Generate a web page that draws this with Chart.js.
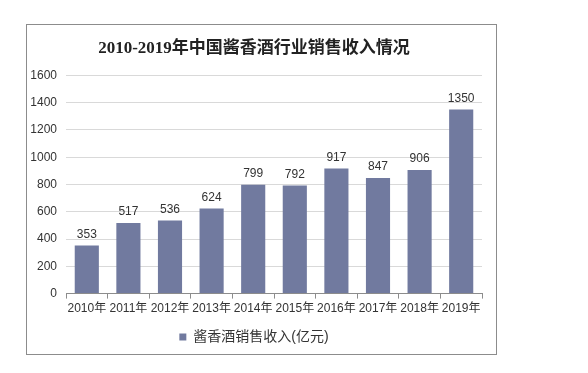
<!DOCTYPE html>
<html>
<head>
<meta charset="utf-8">
<script src="https://cdn.jsdelivr.net/npm/chart.js@4/dist/chart.umd.min.js"></script>
<style>
  html, body { margin: 0; padding: 0; background: #fff; }
  #wrap { width: 588px; height: 373px; position: relative; }
</style>
</head>
<body>
<div id="wrap"><canvas id="salesChart" width="588" height="373"></canvas></div>
<script>
// data
const years = ['2010年', '2011年', '2012年', '2013年', '2014年', '2015年', '2016年', '2017年', '2018年', '2019年'];
const sales = [353, 517, 536, 624, 799, 792, 917, 847, 906, 1350];
const seriesName = '酱香酒销售收入(亿元)';
const chartTitle = '2010-2019年中国酱香酒行业销售收入情况';

Chart.defaults.color = '#333';
Chart.defaults.font.family = "'Liberation Sans', 'Noto Sans CJK SC', sans-serif";
Chart.defaults.font.size = 12;

// frame round the whole chart
const framePlugin = {
    id: 'frame',
    beforeDraw(chart) {
        const ctx = chart.ctx;
        ctx.save();
        ctx.strokeStyle = '#8c8c8c';
        ctx.lineWidth = 1;
        ctx.strokeRect(26.5, 24.5, 470, 330);
        ctx.restore();
    }
};

// value labels above the bars
const valueLabels = {
    id: 'valueLabels',
    afterDatasetsDraw(chart) {
        const ctx = chart.ctx;
        const meta = chart.getDatasetMeta(0);
        ctx.save();
        ctx.font = "12px 'Liberation Sans', sans-serif";
        ctx.fillStyle = '#333';
        ctx.textAlign = 'center';
        ctx.textBaseline = 'bottom';
        meta.data.forEach((bar, i) => {
            ctx.fillText(String(sales[i]), bar.x, bar.y - 5);
        });
        ctx.restore();
    }
};

new Chart(document.getElementById('salesChart'), {
    type: 'bar',
    data: {
        labels: years,
        datasets: [{
            label: seriesName,
            data: sales,
            backgroundColor: '#717a9f',
            categoryPercentage: 0.58,
            barPercentage: 1
        }]
    },
    options: {
        responsive: false,
        animation: false,
        layout: { padding: { left: 26, right: 106, top: 38, bottom: 19 } },
        plugins: {
            title: {
                display: true,
                text: chartTitle,
                color: '#222',
                font: { family: "'Liberation Serif', 'Noto Sans CJK SC', serif", size: 17, weight: 'bold' },
                padding: { top: 0, bottom: 17 }
            },
            legend: {
                position: 'bottom',
                labels: {
                    boxWidth: 7,
                    boxHeight: 7,
                    font: { size: 14 },
                    color: '#333',
                    padding: 6
                }
            },
            tooltip: { enabled: false }
        },
        scales: {
            x: {
                grid: { drawOnChartArea: false, color: '#8c8c8c', tickLength: 5 },
                border: { color: '#8c8c8c' },
                ticks: { padding: 3, maxRotation: 0, autoSkip: false },
                afterFit(scale) { scale.height += 5; }
            },
            y: {
                min: 0,
                max: 1600,
                ticks: { stepSize: 200, padding: 9, callback: v => String(v) },
                grid: { color: '#d9d9d9', drawTicks: false },
                border: { display: false },
                afterFit(scale) { scale.width = 40; }
            }
        }
    },
    plugins: [framePlugin, valueLabels]
});
</script>
</body>
</html>
